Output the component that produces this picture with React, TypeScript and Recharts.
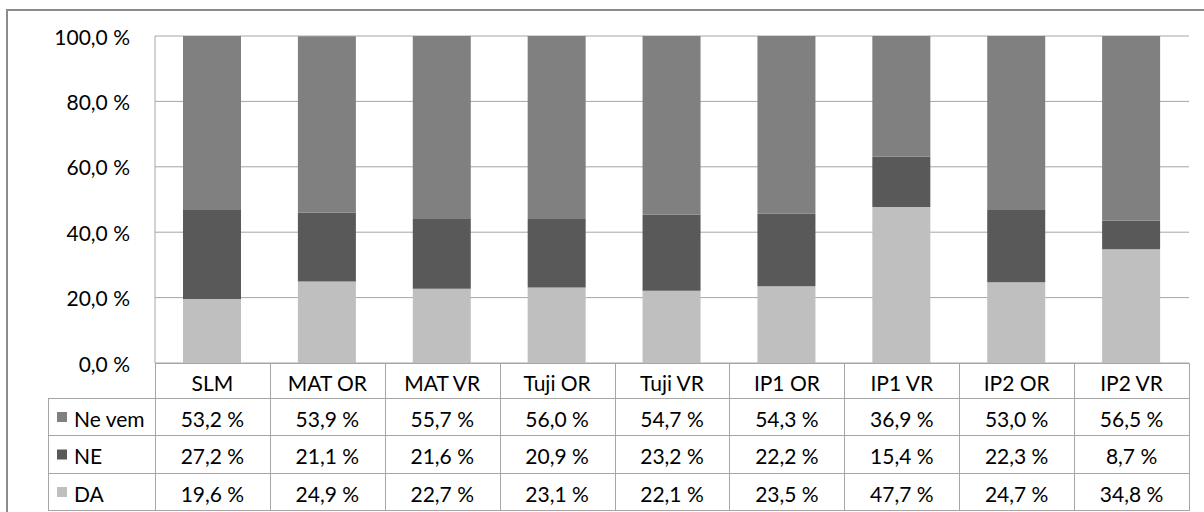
import React from 'react';
import { Bar, BarChart, CartesianGrid, XAxis, YAxis } from 'recharts';

const categories = ['SLM', 'MAT OR', 'MAT VR', 'Tuji OR', 'Tuji VR', 'IP1 OR', 'IP1 VR', 'IP2 OR', 'IP2 VR'];
const daValues = [19.6, 24.9, 22.7, 23.1, 22.1, 23.5, 47.7, 24.7, 34.8];
const neValues = [27.2, 21.1, 21.6, 20.9, 23.2, 22.2, 15.4, 22.3, 8.7];
const neVemValues = [53.2, 53.9, 55.7, 56.0, 54.7, 54.3, 36.9, 53.0, 56.5];
const yTicks = [0, 20, 40, 60, 80, 100];

// table rows top to bottom, as in the data table
const seriesRows = [
  { key: 'neVem', name: 'Ne vem', color: '#808080', values: neVemValues },
  { key: 'ne', name: 'NE', color: '#595959', values: neValues },
  { key: 'da', name: 'DA', color: '#bfbfbf', values: daValues },
];

const data = categories.map((name, i) => ({
  name,
  da: daValues[i],
  ne: neValues[i],
  neVem: neVemValues[i],
}));

const CHART_W = 1204;
const CHART_H = 512;
const MARGIN = { top: 36, right: 15, bottom: 0, left: 0 };
const Y_AXIS_W = 155;
const PLOT_BOTTOM = 363;
const X_AXIS_H = CHART_H - PLOT_BOTTOM;
const PLOT_W = CHART_W - MARGIN.left - MARGIN.right - Y_AXIS_W;
const HALF_BAND = PLOT_W / categories.length / 2;
const HEADER_H = 35;
const ROW_H = 37.3;
const LEGEND_LEFT = 48;
const LINE = '#a6a6a6';
const FONT = 'Lato, sans-serif';
const FONT_SIZE = 21;

const fmt = (v: number) => v.toFixed(1).replace('.', ',') + ' %';

function YTick(props: any) {
  const { y, payload } = props;
  return (
    <text x={130} y={y} textAnchor="end" dominantBaseline="central" fill="#000" fontFamily={FONT} fontSize={FONT_SIZE}>
      {fmt(payload.value)}
    </text>
  );
}

function TableTick(props: any) {
  const { x, payload, index } = props;
  const left = Math.round(x - HALF_BAND) + 0.5;
  const right = Math.round(x + HALF_BAND) + 0.5;
  const top = PLOT_BOTTOM + 0.5;
  const rowTop = (r: number) => Math.round(PLOT_BOTTOM + HEADER_H + r * ROW_H) + 0.5;
  return (
    <g>
      <rect x={left} y={top} width={right - left} height={rowTop(0) - top} fill="none" stroke={LINE} />
      <text x={x} y={(top + rowTop(0)) / 2 + 1} textAnchor="middle" dominantBaseline="central" fill="#000" fontFamily={FONT} fontSize={FONT_SIZE}>
        {payload.value}
      </text>
      {seriesRows.map((s, r) => (
        <g key={s.key}>
          <rect x={left} y={rowTop(r)} width={right - left} height={rowTop(r + 1) - rowTop(r)} fill="none" stroke={LINE} />
          <text x={x} y={(rowTop(r) + rowTop(r + 1)) / 2 + 1} textAnchor="middle" dominantBaseline="central" fill="#000" fontFamily={FONT} fontSize={FONT_SIZE}>
            {fmt(s.values[index])}
          </text>
          {index === 0 && (
            <g>
              <rect x={LEGEND_LEFT + 0.5} y={rowTop(r)} width={left - LEGEND_LEFT - 0.5} height={rowTop(r + 1) - rowTop(r)} fill="none" stroke={LINE} />
              <rect x={57} y={(rowTop(r) + rowTop(r + 1)) / 2 - 5} width={10} height={10} fill={s.color} />
              <text x={74} y={(rowTop(r) + rowTop(r + 1)) / 2 + 1} dominantBaseline="central" fill="#000" fontFamily={FONT} fontSize={FONT_SIZE}>
                {s.name}
              </text>
            </g>
          )}
        </g>
      ))}
    </g>
  );
}

export default function App() {
  return (
    <div style={{ position: 'absolute', left: 0, top: 0, width: CHART_W, height: CHART_H, overflow: 'hidden', background: '#fff', fontFamily: FONT }}>
      <div style={{ position: 'absolute', left: 6, top: 9, width: 1300, height: 600, border: '2px solid #8c8c8c' }} />
      <div style={{ position: 'absolute', left: 0, top: 0 }}>
        <BarChart width={CHART_W} height={CHART_H} data={data} margin={MARGIN}>
          <CartesianGrid vertical={false} stroke={LINE} />
          <XAxis dataKey="name" interval={0} height={X_AXIS_H} axisLine={false} tickLine={false} tick={<TableTick />} />
          <YAxis
            width={Y_AXIS_W}
            domain={[0, 100]}
            ticks={yTicks}
            axisLine={{ stroke: LINE }}
            tickLine={false}
            tick={<YTick />}
          />
          <Bar dataKey="da" stackId="a" fill="#bfbfbf" barSize={58} isAnimationActive={false} />
          <Bar dataKey="ne" stackId="a" fill="#595959" barSize={58} isAnimationActive={false} />
          <Bar dataKey="neVem" stackId="a" fill="#808080" barSize={58} isAnimationActive={false} />
        </BarChart>
      </div>
    </div>
  );
}
